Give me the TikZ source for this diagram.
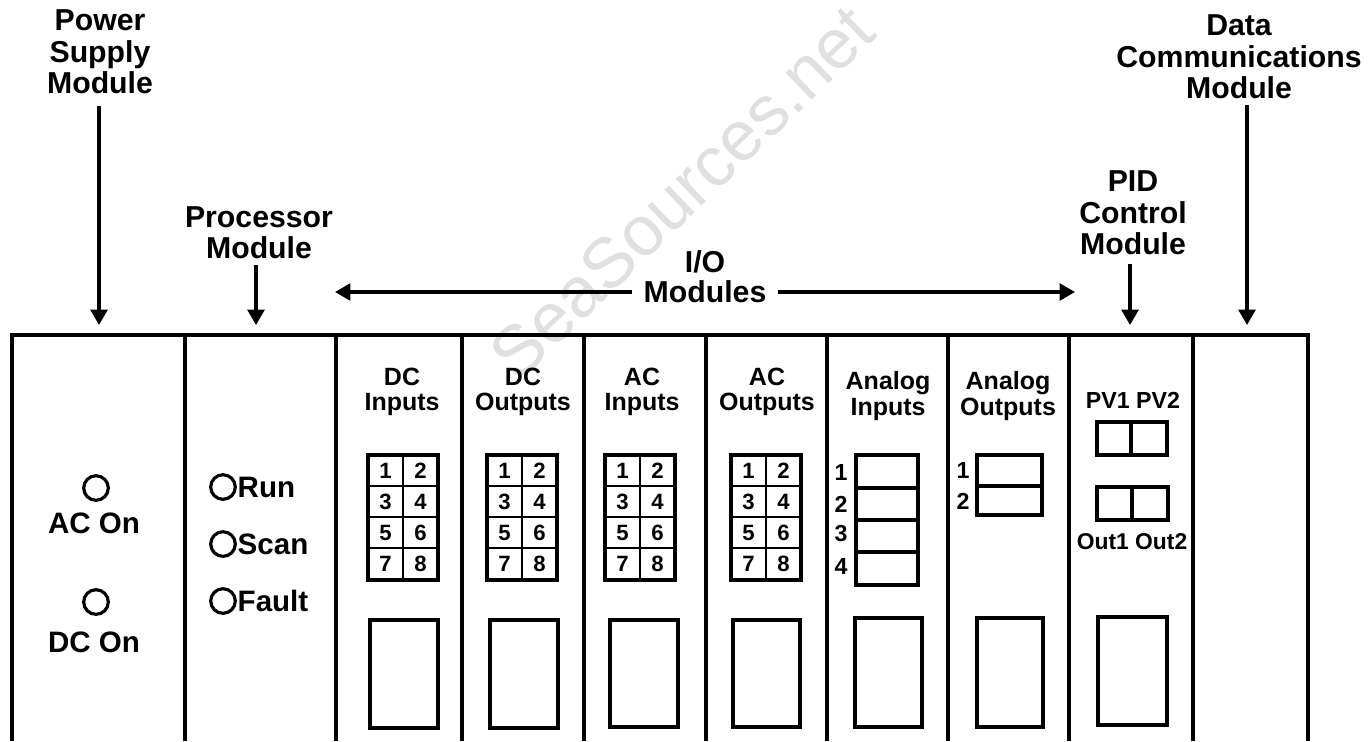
\documentclass[tikz,border=0pt]{standalone}
\usepackage{fontspec}
\setmainfont{Liberation Sans}
\usetikzlibrary{arrows.meta}
\newcommand{\dgrid}[2]{%
  \draw[box] (#2,455) rectangle (#2+70,580);
  \draw[divl] (#2+35,455) -- (#2+35,580);
  \foreach \yy in {486,517,548} \draw[divl] (#2,\yy) -- (#2+70,\yy);
  \foreach \n/\cx/\cy in {1/17.5/471,2/52.5/471,3/17.5/502,4/52.5/502,5/17.5/533,6/52.5/533,7/17.5/564,8/52.5/564}
    \node[num] (#1\n) at (#2+\cx,\cy) {\n};
}
\begin{document}
\begin{tikzpicture}[x=0.01cm,y=-0.01cm,
  frame/.style={line width=1.1pt},
  box/.style={draw,line width=1.1pt},
  divl/.style={line width=0.8pt},
  arr/.style={line width=0.95pt,-{Triangle[length=4.4pt,width=4.8pt]}},
  lbl/.style={font=\fontsize{8.6}{8.9}\selectfont\bfseries,align=center,inner sep=0pt},
  ttl/.style={font=\fontsize{7.1}{7.3}\selectfont\bfseries,align=center,inner sep=0pt},
  ledtxt/.style={font=\fontsize{8.4}{9}\selectfont\bfseries,inner sep=0pt},
  num/.style={font=\fontsize{6.3}{7}\selectfont\bfseries,inner sep=0pt},
  anum/.style={font=\fontsize{6.6}{7}\selectfont\bfseries,inner sep=0pt},
  led/.style={draw,circle,line width=0.9pt,minimum size=7pt,inner sep=0pt}]
\useasboundingbox[fill=white] (0,0) rectangle (1371,741);

% watermark
\node[rotate=44,text=gray!24,font=\fontsize{20}{20}\selectfont,inner sep=0pt] (wm) at (682,192) {SeaSources.net};

% rack frame
\draw[frame] (12,741) -- (12,335) -- (1308,335) -- (1308,741);
\foreach \x in {185,336,462,584,706,827,948,1069,1193} \draw[frame] (\x,335) -- (\x,741);

% top labels and arrows
\node[lbl] (ps) at (100,52) {Power\\Supply\\Module};
\coordinate (psA) at (99,106); \coordinate (psB) at (99,325);
\draw[arr] (psA) -- (psB);

\node[lbl] (proc) at (259,233) {Processor\\Module};
\coordinate (prA) at (256,265); \coordinate (prB) at (256,325);
\draw[arr] (prA) -- (prB);

\node[lbl] (io) at (705,262) {I/O};
\node[lbl] (iom) at (705,292) {Modules};
\coordinate (ioL) at (335,292); \coordinate (ioR) at (1075,292);
\draw[arr,shorten <=3pt] (iom.west) -- (ioL);
\draw[arr,shorten <=3pt] (iom.east) -- (ioR);

\node[lbl] (pid) at (1133,213) {PID\\Control\\Module};
\coordinate (pidA) at (1130,264); \coordinate (pidB) at (1130,325);
\draw[arr] (pidA) -- (pidB);

\node[lbl] (dcm) at (1239,57) {Data\\Communications\\Module};
\coordinate (dcmA) at (1247,105); \coordinate (dcmB) at (1247,325);
\draw[arr] (dcmA) -- (dcmB);

% power supply module
\node[led] (acled) at (96,488) {};
\node[ledtxt] (actxt) at (94,523) {AC On};
\node[led] (dcled) at (96,602) {};
\node[ledtxt] (dctxt) at (94,642) {DC On};

% processor module
\node[led] (runled) at (223,487) {};
\node[ledtxt,anchor=west] (runtxt) at (237,487) {Run};
\node[led] (scanled) at (223,544) {};
\node[ledtxt,anchor=west] (scantxt) at (237,544) {Scan};
\node[led] (faultled) at (223,601) {};
\node[ledtxt,anchor=west] (faulttxt) at (237,601) {Fault};

% discrete I/O modules
\node[ttl] (dcit) at (402,392) {DC\\Inputs};
\dgrid{dci}{368}
\draw[box] (370,620) rectangle (438,728);

\node[ttl] (dcot) at (523,392) {DC\\Outputs};
\dgrid{dco}{487}
\draw[box] (490,620) rectangle (558,728);

\node[ttl] (acit) at (642,392) {AC\\Inputs};
\dgrid{aci}{605}
\draw[box] (610,620) rectangle (678,727);

\node[ttl] (acot) at (767,392) {AC\\Outputs};
\dgrid{aco}{731}
\draw[box] (733,620) rectangle (800,727);

% analog inputs
\node[ttl] (ait) at (888,396) {Analog\\Inputs};
\draw[box] (856,455) rectangle (918,585);
\foreach \yy in {488,520,552} \draw[box] (856,\yy) -- (918,\yy);
\node[anum] (ai1) at (841,472) {1};
\node[anum] (ai2) at (841,504) {2};
\node[anum] (ai3) at (841,533) {3};
\node[anum] (ai4) at (841,566) {4};
\draw[box] (855,618) rectangle (922,727);

% analog outputs
\node[ttl] (aot) at (1008,396) {Analog\\Outputs};
\draw[box] (977,455) rectangle (1042,515);
\draw[box] (977,486) -- (1042,486);
\node[anum] (ao1) at (963,470) {1};
\node[anum] (ao2) at (963,501) {2};
\draw[box] (977,618) rectangle (1043,727);

% PID module
\node[num,font=\fontsize{6.6}{7}\selectfont\bfseries] (pv) at (1133,400) {PV1 PV2};
\draw[box] (1097,422) rectangle (1167,455);
\draw[box] (1131,422) -- (1131,455);
\draw[box] (1097,487) rectangle (1168,520);
\draw[box] (1132,487) -- (1132,520);
\node[num,font=\fontsize{6.5}{7}\selectfont\bfseries] (outs) at (1132,542) {Out1 Out2};
\draw[box] (1098,617) rectangle (1167,725);
\end{tikzpicture}
\end{document}
